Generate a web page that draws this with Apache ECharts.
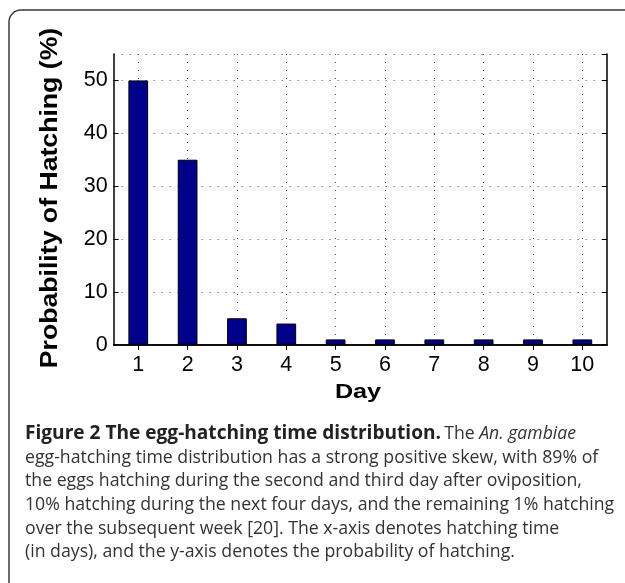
<!DOCTYPE html>
<html>
<head>
<meta charset="utf-8">
<script src="https://cdn.jsdelivr.net/npm/echarts@6/dist/echarts.min.js"></script>
<style>
html,body{margin:0;padding:0;background:#fff;}
#chart{width:625px;height:583px;}
</style>
</head>
<body>
<div id="chart"></div>
<script>
// ---- data ----
const days = ['1','2','3','4','5','6','7','8','9','10'];
const probability = [50, 35, 5, 4, 1, 1, 1, 1, 1, 1];
const yTitle = 'Probability of Hatching (%)';
const xTitle = 'Day';
const captionBold = 'Figure 2 The egg-hatching time distribution.';
const captionLines = [
  'egg-hatching time distribution has a strong positive skew, with 89% of',
  'the eggs hatching during the second and third day after oviposition,',
  '10% hatching during the next four days, and the remaining 1% hatching',
  'over the subsequent week [20]. The x-axis denotes hatching time',
  '(in days), and the y-axis denotes the probability of hatching.'
];

const chart = echarts.init(document.getElementById('chart'), null, {renderer: 'canvas'});
const F = 'Liberation Sans, Arial, Helvetica, sans-serif';
const CF = 'Open Sans, sans-serif';
const dotted = {color: '#444', width: 1, type: [1, 7]};

const graphics = [
  {type: 'rect', shape: {x: 9, y: 10, width: 700, height: 700, r: 12},
   style: {fill: 'none', stroke: '#3a3a3a', lineWidth: 1.5}, silent: true},
  {type: 'text', x: 50, y: 198, rotation: Math.PI / 2, scaleX: 1.11, scaleY: 1.0,
   style: {text: yTitle, font: 'bold 24px ' + F, fill: '#000', textAlign: 'center', textVerticalAlign: 'middle'}},
  {type: 'text', x: 358, y: 392, scaleX: 1.2,
   style: {text: xTitle, font: 'bold 21px ' + F, fill: '#000', textAlign: 'center', textVerticalAlign: 'middle'}},
  {type: 'text', x: 25, y: 434,
   style: {
     text: '{b|' + captionBold + '} {n|The }{i|An. gambiae}',
     textVerticalAlign: 'middle',
     rich: {
       b: {font: 'bold 19.1px ' + CF, fill: '#222'},
       n: {font: '17.6px ' + CF, fill: '#333'},
       i: {font: 'italic 17.6px ' + CF, fill: '#333'}
     }
   }}
];
captionLines.forEach(function (line, i) {
  graphics.push({type: 'text', x: 25, y: 457.5 + i * 23.7,
    style: {text: line, font: '17.7px ' + CF, fill: '#333', textVerticalAlign: 'middle'}});
});

chart.setOption({
  animation: false,
  backgroundColor: '#fff',
  grid: {left: 113.6, right: 18, top: 54, bottom: 238.3, containLabel: false},
  xAxis: [
    {type: 'category', data: days, position: 'bottom', boundaryGap: true,
     axisLine: {show: true, lineStyle: {color: '#000', width: 1.5}},
     axisTick: {show: true, inside: true, length: 5, alignWithLabel: true, lineStyle: {color: '#000'}},
     axisLabel: {show: true, color: '#000', fontFamily: F, fontSize: 21.5, margin: 9},
     splitLine: {show: true, alignWithLabel: true, lineStyle: dotted}},
    {type: 'category', data: days, position: 'top', boundaryGap: true,
     axisLine: {show: true, lineStyle: {color: '#000', width: 1.5}},
     axisTick: {show: true, inside: true, length: 5, alignWithLabel: true, lineStyle: {color: '#000'}},
     axisLabel: {show: false}, splitLine: {show: false}}
  ],
  yAxis: [
    {type: 'value', min: 0, max: 55, interval: 10, position: 'left',
     axisLine: {show: true, lineStyle: {color: '#000', width: 1.5}},
     axisTick: {show: true, inside: true, length: 5, lineStyle: {color: '#000'}},
     axisLabel: {show: true, color: '#000', fontFamily: F, fontSize: 21.5, margin: 6, showMaxLabel: false},
     splitLine: {show: true, lineStyle: dotted}},
    {type: 'value', min: 0, max: 55, interval: 10, position: 'right',
     axisLine: {show: true, lineStyle: {color: '#000', width: 1.5}},
     axisTick: {show: true, inside: true, length: 5, lineStyle: {color: '#000'}},
     axisLabel: {show: false}, splitLine: {show: false}}
  ],
  series: [{
    type: 'bar', data: probability, xAxisIndex: 0, yAxisIndex: 0,
    barWidth: '40%',
    itemStyle: {color: '#00008B', borderColor: '#000', borderWidth: 1},
    z: 3
  }],
  graphic: graphics
});
</script>
</body>
</html>
